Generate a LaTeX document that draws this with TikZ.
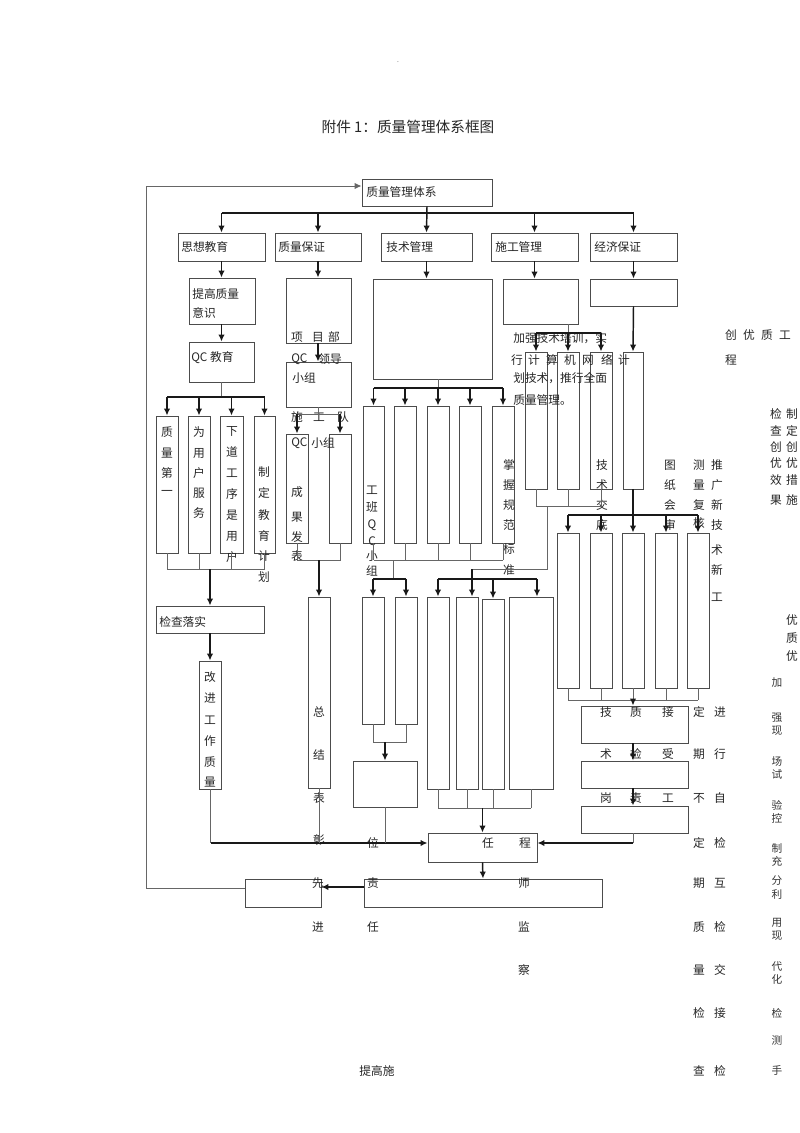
\documentclass[tikz,border=0pt]{standalone}
\usepackage{fontspec}
\setmainfont{Noto Sans CJK SC}
\usetikzlibrary{arrows.meta,fit}
\newcommand\cfs{\fontsize{8.8pt}{10pt}\selectfont}

\begin{document}
\begin{tikzpicture}[x=0.75pt,y=-0.75pt,
  box/.style={draw=black!70, line width=0.7pt, inner sep=0pt},
  arr/.style={-{Latex[length=5.2pt,width=4.8pt]}, line width=1.1pt, black!90},
  bus/.style={line width=1.1pt, black!90},
  link/.style={line width=0.7pt, black!60},
  txt/.style={inner sep=0pt, font=\cfs, text=black!85},
  small/.style={inner sep=0pt, font=\fontsize{8pt}{8pt}\selectfont, text=black!80}]
\fill[white] (0,0) rectangle (800,1133);
\useasboundingbox (0,0) rectangle (800,1133);

\node[small, font=\tiny] (dot) at (398,62) {.};
\node[txt, font=\fontsize{11pt}{12pt}\selectfont] (title) at (408,127) {附件 1：质量管理体系框图};

% boxes
\node[box, fit={(362,179)(492,206)}] (zlgl) {};
\node[box, fit={(178,233)(265,261)}] (sxjy) {};
\node[box, fit={(275,233)(361,261)}] (zlbz) {};
\node[box, fit={(381,233)(472,261)}] (jsgl) {};
\node[box, fit={(491,233)(578,261)}] (sggl) {};
\node[box, fit={(590,233)(677,261)}] (jjbz) {};

\node[box, fit={(189,278)(255,324)}] (tgzl) {};
\node[box, fit={(189,342)(254,382)}] (qcjy) {};
\node[box, fit={(156,416)(178,553)}] (z1) {};
\node[box, fit={(188,416)(210,553)}] (z2) {};
\node[box, fit={(220,416)(243,553)}] (z3) {};
\node[box, fit={(254,416)(275,553)}] (z4) {};
\node[box, fit={(156,606)(264,633)}] (jcls) {};
\node[box, fit={(199,661)(221,789)}] (gjgz) {};

\node[box, fit={(286,278)(351,343)}] (xmb) {};
\node[box, fit={(286,362)(351,407)}] (qcld) {};
\node[box, fit={(286,434)(308,543)}] (sgd1) {};
\node[box, fit={(329,434)(351,543)}] (sgd2) {};
\node[box, fit={(308,597)(330,788)}] (zj) {};

\node[box, fit={(373,279)(492,379)}] (jsk) {};
\node[box, fit={(363,406)(384,543)}] (j1) {};
\node[box, fit={(394,406)(416,543)}] (j2) {};
\node[box, fit={(427,406)(449,543)}] (j3) {};
\node[box, fit={(459,406)(481,543)}] (j4) {};
\node[box, fit={(492,406)(514,543)}] (j5) {};
\node[box, fit={(362,597)(384,724)}] (b1) {};
\node[box, fit={(395,597)(417,724)}] (b2) {};
\node[box, fit={(353,761)(417,807)}] (bx) {};

\node[box, fit={(427,597)(449,789)}] (g1) {};
\node[box, fit={(456,597)(478,789)}] (g2) {};
\node[box, fit={(482,599)(504,789)}] (g3) {};
\node[box, fit={(509,597)(553,789)}] (g4) {};

\node[box, fit={(503,279)(578,324)}] (sgk) {};
\node[box, fit={(525,352)(547,489)}] (s1) {};
\node[box, fit={(557,352)(579,489)}] (s2) {};
\node[box, fit={(590,352)(612,489)}] (s3) {};

\node[box, fit={(590,279)(677,306)}] (jjk) {};
\node[box, fit={(623,352)(643,489)}] (e1) {};
\node[box, fit={(557,533)(579,688)}] (f1) {};
\node[box, fit={(590,533)(612,688)}] (f2) {};
\node[box, fit={(622,533)(644,688)}] (f3) {};
\node[box, fit={(655,533)(677,688)}] (f4) {};
\node[box, fit={(687,533)(709,688)}] (f5) {};
\node[box, fit={(581,706)(688,743)}] (ka) {};
\node[box, fit={(581,761)(688,788)}] (kb) {};
\node[box, fit={(581,806)(688,833)}] (kc) {};

\node[box, fit={(428,833)(537,862)}] (ren) {};
\node[box, fit={(364,879)(602,907)}] (big) {};
\node[box, fit={(245,879)(321,907)}] (lft) {};

% texts
\node[txt, anchor=west] (t0) at (366,192.5) {质量管理体系};
\node[txt, anchor=west] (t1) at (181,247) {思想教育};
\node[txt, anchor=west] (t2) at (278,247) {质量保证};
\node[txt, anchor=west] (t3) at (386,247) {技术管理};
\node[txt, anchor=west] (t4) at (495,247) {施工管理};
\node[txt, anchor=west] (t5) at (594,247) {经济保证};
\node[txt, anchor=west] (t6) at (192,294) {提高质量};
\node[txt, anchor=west] (t7) at (192,313) {意识};
\node[txt, anchor=west] (t8) at (191,358) {QC 教育};
\node[txt, anchor=west] (t9) at (159,622) {检查落实};
\node[txt] (xm1) at (297,337) {项};
\node[txt] (xm2) at (318,337) {目};
\node[txt] (xm3) at (334,337) {部};
\node[txt, anchor=west] (qc1) at (291,359) {QC};
\node[txt] (ld) at (330,359) {领导};
\node[txt, anchor=west] (xz1) at (292,378) {小组};
\node[txt] (sd1) at (297,417) {施};
\node[txt] (sd2) at (319,417) {工};
\node[txt] (sd3) at (343,417) {队};
\node[txt, anchor=west] (qc2) at (291,443) {QC};
\node[txt] (xz2) at (323,443) {小组};
\node[txt, anchor=west] (p1) at (513,338) {加强技术培训，实};
\foreach \c/\x in {行/517,计/534,算/552,机/570,网/588,络/607,计/624}
  \node[txt] (p2\x) at (\x,360) {\c};
\node[txt, anchor=west] (p3) at (513,378) {划技术，推行全面};
\node[txt, anchor=west] (p4) at (513,400) {质量管理。};
\node[txt] (r1) at (488,843) {任};
\node[txt] (r2) at (525,843) {程};
\node[txt] (tgs) at (377,1071) {提高施};

\foreach \c/\y in {质/432,量/453,第/473,一/493} \node[txt] (a\y) at (167,\y) {\c};
\foreach \c/\y in {为/432,用/453,户/473,服/493,务/513} \node[txt] (b\y) at (199,\y) {\c};
\foreach \c/\y in {下/431,道/452,工/473,序/494,是/515,用/536,户/557} \node[txt] (c\y) at (232,\y) {\c};
\foreach \c/\y in {制/472,定/493,教/515,育/536,计/556,划/577} \node[txt] (d\y) at (264,\y) {\c};
\foreach \c/\y in {改/677,进/698,工/720,作/741,质/762,量/782} \node[txt] (e\y) at (210,\y) {\c};
\foreach \c/\y in {成/492,果/517,发/537,表/556} \node[txt] (f\y) at (297,\y) {\c};
\foreach \c/\y in {总/712,结/755,表/798,彰/840} \node[txt] (g\y) at (319,\y) {\c};
\foreach \c/\y in {工/490,班/507,Q/525,C/541,小/556,组/571} \node[txt] (h\y) at (372,\y) {\c};
\foreach \c/\y in {位/843,责/883,任/927} \node[txt] (i\y) at (373,\y) {\c};
\foreach \c/\y in {先/883,进/927} \node[txt] (k\y) at (318,\y) {\c};
\foreach \c/\y in {掌/465,握/485,规/505,范/525,标/549,准/570} \node[txt] (l\y) at (509,\y) {\c};
\foreach \c/\y in {技/465,术/485,交/505,底/525} \node[txt] (m\y) at (602,\y) {\c};
\foreach \c/\y in {图/465,纸/485,会/505,审/525} \node[txt] (n\y) at (670,\y) {\c};
\foreach \c/\y in {测/465,量/485,复/505,核/523} \node[txt] (o\y) at (699,\y) {\c};
\foreach \c/\y in {推/465,广/485,新/505,技/525,术/550,新/570,工/597} \node[txt] (q\y) at (717,\y) {\c};
\foreach \c/\x in {创/731,优/749,质/767,工/785} \node[txt] (cy\x) at (\x,335) {\c};
\node[txt] (cheng) at (731,360) {程};
\foreach \c/\y in {检/414,查/431,创/447,优/463,效/480,果/500} \node[txt] (u\y) at (776,\y) {\c};
\foreach \c/\y in {制/414,定/431,创/447,优/463,措/480,施/500,优/620,质/638,优/656} \node[txt] (v\y) at (792,\y) {\c};
\foreach \c/\x in {技/606,质/636,接/668,定/699,进/720} \node[txt] (w1\x) at (\x,712) {\c};
\foreach \c/\x in {术/606,检/636,受/668,期/699,行/720} \node[txt] (w2\x) at (\x,754) {\c};
\foreach \c/\x in {岗/606,责/636,工/668,不/699,自/720} \node[txt] (w3\x) at (\x,798) {\c};
\foreach \c/\y in {定/843,期/883,质/927,量/970,检/1013,查/1071} \node[txt] (x\y) at (699,\y) {\c};
\foreach \c/\y in {检/843,互/883,检/927,交/970,接/1013,检/1071} \node[txt] (y\y) at (720,\y) {\c};
\foreach \c/\y in {师/883,监/927,察/970} \node[txt] (s\y) at (524,\y) {\c};
\foreach \c/\y in {加/683,强/718,现/731,场/761,试/774,验/805,控/818,制/848,充/861,分/881,利/894,用/923,现/936,代/966,化/979,检/1013,测/1040,手/1070}
  \node[small] (rr\y) at (777,\y) {\c};

% connectors
\coordinate (tb) at (0,213);
\draw[bus] (sxjy.north |- tb) -- (jjbz.north |- tb);
\draw[arr] (zlgl.south) -- (jsgl.south |- jsgl.north);
\foreach \n in {sxjy,zlbz,sggl,jjbz} \draw[arr] (\n.north |- tb) -- (\n.north);
\coordinate (lp1) at (146,888);
\coordinate (lp2) at (146,186);
\draw[link, -{Latex[length=5.2pt,width=4.8pt]}] (lft.west |- lp1) -- (lp1) -- (lp2) -- (zlgl.west |- lp2);

% left
\draw[arr] (sxjy.south) -- (tgzl.north -| sxjy.south);
\draw[arr] (tgzl.south -| sxjy.south) -- (qcjy.north -| sxjy.south);
\draw[link] (qcjy.south) -- (qcjy.south |- 0,397);
\draw[bus] (z1.north |- 0,397) -- (z4.north |- 0,397);
\foreach \n in {z1,z2,z3,z4} \draw[arr] (\n.north |- 0,397) -- (\n.north);
\foreach \n in {z1,z2,z3,z4} \draw[link] (\n.south) -- (\n.south |- 0,569);
\draw[link] (z1.south |- 0,569) -- (z4.south |- 0,569);
\draw[arr] (jcls.north |- 0,569) -- (jcls.north);
\draw[arr] (jcls.south) -- (gjgz.north);
\coordinate (hl) at (211,843);
\draw[link] (gjgz.south) -- (gjgz.south |- hl);
\draw[arr] (hl) -- (ren.west |- hl);

% quality column
\draw[arr] (zlbz.south) -- (xmb.north -| zlbz.south);
\draw[arr] (xmb.south -| zlbz.south) -- (qcld.north -| zlbz.south);
\draw[link] (qcld.south -| zlbz.south) -- (zlbz.south |- 0,414);
\draw[link] (sgd1.north |- 0,414) -- (sgd2.north |- 0,414);
\draw[arr] (sgd1.north |- 0,414) -- (sgd1.north);
\draw[arr] (sgd2.north |- 0,414) -- (sgd2.north);
\draw[link] (sgd1.south) -- (sgd1.south |- 0,560) -- (sgd2.south |- 0,560) -- (sgd2.south);
\draw[arr] (zj.north |- 0,560) -- (zj.north);
\draw[link] (zj.south) -- (zj.south |- hl);

% technique column
\draw[arr] (jsgl.south) -- (jsgl.south |- jsk.north);
\draw[link] (438,379) -- (438,388);
\draw[bus] (j1.north |- 0,388) -- (j5.north |- 0,388);
\foreach \n in {j1,j2,j3,j4,j5} \draw[arr] (\n.north |- 0,388) -- (\n.north);
\foreach \n in {j1,j2,j3,j4,j5} \draw[link] (\n.south) -- (\n.south |- 0,560);
\draw[link] (j1.south |- 0,560) -- (j5.south |- 0,560);
\draw[link] (393,560) -- (393,579);
\draw[bus] (b1.north |- 0,579) -- (b2.north |- 0,579);
\draw[arr] (b1.north |- 0,579) -- (b1.north);
\draw[arr] (b2.north |- 0,579) -- (b2.north);
\draw[link] (b1.south) -- (b1.south |- 0,742) -- (b2.south |- 0,742) -- (b2.south);
\draw[arr] (bx.north |- 0,742) -- (bx.north);
\draw[link] (bx.south) -- (bx.south |- hl);

% construction column
\draw[arr] (sggl.south) -- (sggl.south |- sgk.north);
\draw[link] (568,324) -- (568,333);
\draw[bus] (s1.north |- 0,333) -- (s3.north |- 0,333);
\foreach \n in {s1,s2,s3} \draw[arr] (\n.north |- 0,333) -- (\n.north);
\foreach \n in {s1,s2,s3} \draw[link] (\n.south) -- (\n.south |- 0,506);
\draw[link] (s1.south |- 0,506) -- (s3.south |- 0,506);
\draw[link] (547,506) -- (547,569) -- (472,569);
\draw[arr] (472,569) -- (g2.north -| 472,0);
\draw[bus] (g1.north |- 0,579) -- (537,579);
\draw[arr] (g1.north |- 0,579) -- (g1.north);
\draw[arr] (g3.north |- 0,579) -- (g3.north);
\draw[arr] (537,579) -- (g4.north -| 537,0);
\foreach \n in {g1,g2,g3} \draw[link] (\n.south) -- (\n.south |- 0,808);
\draw[link] (531,789) -- (531,808);
\draw[link] (g1.south |- 0,808) -- (531,808);
\draw[arr] (ren.north |- 0,808) -- (ren.north);

% economy column
\draw[arr] (jjbz.south) -- (jjk.north);
\draw[arr] (jjk.south) -- (e1.north);
\draw[arr] (e1.south) -- (f3.north);
\draw[bus] (f1.north |- 0,515) -- (f5.north |- 0,515);
\foreach \n in {f1,f2,f4,f5} \draw[arr] (\n.north |- 0,515) -- (\n.north);
\foreach \n in {f1,f2,f3,f4,f5} \draw[link] (\n.south) -- (\n.south |- 0,700);
\draw[link] (f1.south |- 0,700) -- (f5.south |- 0,700);
\draw[arr] (f3.south |- 0,700) -- (ka.north -| f3.south);
\draw[arr] (ka.south -| f3.south) -- (kb.north -| f3.south);
\draw[arr] (kb.south -| f3.south) -- (kc.north -| f3.south);
\draw[link] (kc.south -| f3.south) -- (f3.south |- hl);
\draw[arr] (f3.south |- hl) -- (ren.east |- hl);

% bottom
\draw[arr] (ren.south) -- (big.north);
\draw[arr] (big.west |- 0,887) -- (lft.east |- 0,887);
\end{tikzpicture}
\end{document}
